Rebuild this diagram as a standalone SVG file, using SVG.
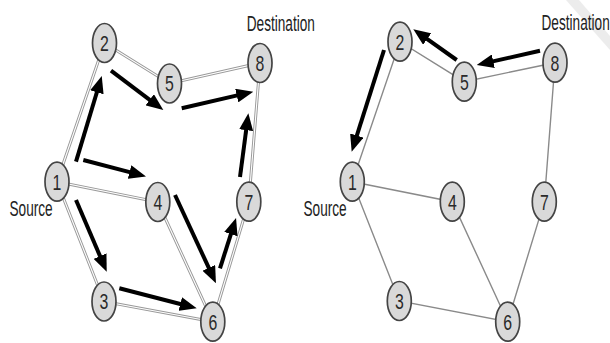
<svg xmlns="http://www.w3.org/2000/svg" width="610" height="343" viewBox="0 0 610 343">
  <style>
    .node ellipse { fill: #d9d9d9; stroke: #444; stroke-width: 1.7; }
    .node text { font-family: "Liberation Sans", Arial, sans-serif; font-size: 22px; fill: #2a2a2a; text-anchor: middle; }
    .label { font-family: "Liberation Sans", Arial, sans-serif; font-size: 22px; fill: #222; }
    .rail-out { stroke: #999; stroke-width: 3; fill: none; }
    .rail-in { stroke: #ffffff; stroke-width: 1.1; fill: none; }
    .edge { stroke: #8a8a8a; stroke-width: 1.4; fill: none; }
    .flow { stroke: #000; stroke-width: 4; fill: none; marker-end: url(#head); }
  </style>
  <defs>
    <marker id="head" markerUnits="userSpaceOnUse" markerWidth="17" markerHeight="14" refX="5" refY="7" orient="auto">
      <path d="M0,0 L17,7 L0,14 Z" fill="#000"/>
    </marker>
  </defs>
  <rect width="610" height="343" fill="#fff"/>

  <!-- faint corner mark -->
  <polygon points="566,0 579,0 610,36 610,50" fill="#ececec"/>

  <!-- links: left network drawn as double rails, right network as single lines -->
  <g id="connectors">
    <g id="links-left">
      <path class="rail-out" d="M57,181.7 L104.5,43 L169.5,83.5 L260,63 L248.8,201.7 L212.8,321.7 L104,301.5 L57,181.7 L157.8,202 L212.8,321.7"/>
      <path class="rail-in" d="M57,181.7 L104.5,43 L169.5,83.5 L260,63 L248.8,201.7 L212.8,321.7 L104,301.5 L57,181.7 L157.8,202 L212.8,321.7"/>
    </g>
    <g id="links-right">
      <path class="edge" d="M352.3,181.7 L400,41.7 L464.3,81.7 L555,62.7 L544.3,201.7 L507.7,321.7 L399.3,301 L352.3,181.7 L452.3,201.7 L507.7,321.7"/>
    </g>
    <!-- flooding from the source -->
    <g id="flows-left">
      <line class="flow" x1="76" y1="161.7" x2="98.3" y2="87.5"/>
      <line class="flow" x1="111" y1="70.7" x2="153.7" y2="102.8"/>
      <line class="flow" x1="181.7" y1="108.3" x2="241.6" y2="94.4"/>
      <line class="flow" x1="240" y1="177" x2="246.8" y2="125.2"/>
      <line class="flow" x1="83.3" y1="160" x2="134.4" y2="173.4"/>
      <line class="flow" x1="76" y1="200" x2="102" y2="260.7"/>
      <line class="flow" x1="175" y1="195" x2="210.9" y2="272.4"/>
      <line class="flow" x1="220" y1="268.3" x2="232.4" y2="229.4"/>
      <line class="flow" x1="119.3" y1="288.3" x2="185.1" y2="305.3"/>
    </g>
    <!-- reply path back to the source -->
    <g id="flows-right">
      <line class="flow" x1="540" y1="50.7" x2="488.4" y2="62.4"/>
      <line class="flow" x1="456.7" y1="60" x2="423.1" y2="36.2"/>
      <line class="flow" x1="384" y1="50" x2="355.3" y2="140.3"/>
    </g>
  </g>

  <!-- left network nodes -->
  <g id="L1" class="node"><ellipse cx="57" cy="181.7" rx="12" ry="19.5"/><text transform="translate(57,189.5) scale(0.72,1)">1</text></g>
  <g id="L2" class="node"><ellipse cx="104.5" cy="43" rx="12" ry="19.5"/><text transform="translate(104.5,50.8) scale(0.72,1)">2</text></g>
  <g id="L3" class="node"><ellipse cx="104" cy="301.5" rx="12" ry="19.5"/><text transform="translate(104,309.3) scale(0.72,1)">3</text></g>
  <g id="L4" class="node"><ellipse cx="157.8" cy="202" rx="12" ry="19.5"/><text transform="translate(157.8,209.8) scale(0.72,1)">4</text></g>
  <g id="L5" class="node"><ellipse cx="169.5" cy="83.5" rx="12" ry="19.5"/><text transform="translate(169.5,91.3) scale(0.72,1)">5</text></g>
  <g id="L6" class="node"><ellipse cx="212.8" cy="321.7" rx="12" ry="19.5"/><text transform="translate(212.8,329.5) scale(0.72,1)">6</text></g>
  <g id="L7" class="node"><ellipse cx="248.8" cy="201.7" rx="12" ry="19.5"/><text transform="translate(248.8,209.5) scale(0.72,1)">7</text></g>
  <g id="L8" class="node"><ellipse cx="260" cy="63" rx="12" ry="19.5"/><text transform="translate(260,70.8) scale(0.72,1)">8</text></g>

  <!-- right network nodes -->
  <g id="R1" class="node"><ellipse cx="352.3" cy="181.7" rx="12" ry="19.5"/><text transform="translate(352.3,189.5) scale(0.72,1)">1</text></g>
  <g id="R2" class="node"><ellipse cx="400" cy="41.7" rx="12" ry="19.5"/><text transform="translate(400,49.5) scale(0.72,1)">2</text></g>
  <g id="R3" class="node"><ellipse cx="399.3" cy="301" rx="12" ry="19.5"/><text transform="translate(399.3,308.8) scale(0.72,1)">3</text></g>
  <g id="R4" class="node"><ellipse cx="452.3" cy="201.7" rx="12" ry="19.5"/><text transform="translate(452.3,209.5) scale(0.72,1)">4</text></g>
  <g id="R5" class="node"><ellipse cx="464.3" cy="81.7" rx="12" ry="19.5"/><text transform="translate(464.3,89.5) scale(0.72,1)">5</text></g>
  <g id="R6" class="node"><ellipse cx="507.7" cy="321.7" rx="12" ry="19.5"/><text transform="translate(507.7,329.5) scale(0.72,1)">6</text></g>
  <g id="R7" class="node"><ellipse cx="544.3" cy="201.7" rx="12" ry="19.5"/><text transform="translate(544.3,209.5) scale(0.72,1)">7</text></g>
  <g id="R8" class="node"><ellipse cx="555" cy="62.7" rx="12" ry="19.5"/><text transform="translate(555,70.5) scale(0.72,1)">8</text></g>

  <!-- labels -->
  <g id="labels">
    <text class="label" text-anchor="end" transform="translate(52.7,216) scale(0.62,1)">Source</text>
    <text class="label" transform="translate(246.7,30.7) scale(0.62,1)">Destination</text>
    <text class="label" text-anchor="end" transform="translate(346.7,216) scale(0.62,1)">Source</text>
    <text class="label" transform="translate(541.5,29.5) scale(0.62,1)">Destination</text>
  </g>
</svg>
